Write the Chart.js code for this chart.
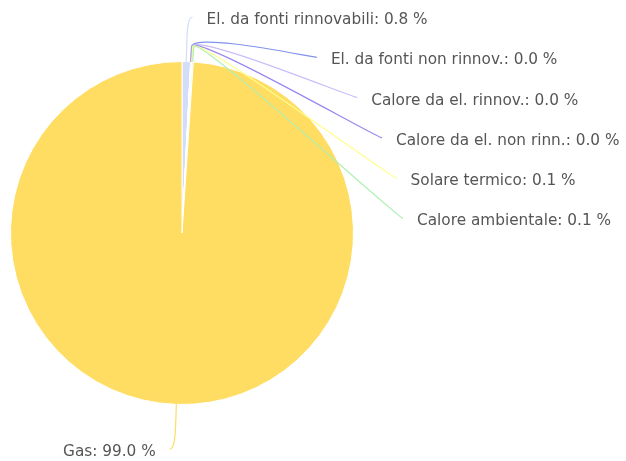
<!DOCTYPE html>
<html>
<head>
<meta charset="utf-8">
<script src="https://cdn.jsdelivr.net/npm/chart.js"></script>
<style>
  html, body { margin: 0; padding: 0; background: #fff; }
</style>
</head>
<body>
<canvas id="chart" width="626" height="461"></canvas>
<script>
'use strict';

//*****DATA******/

let categories = [
  'El. da fonti rinnovabili',
  'El. da fonti non rinnov.',
  'Calore da el. rinnov.',
  'Calore da el. non rinn.',
  'Solare termico',
  'Calore ambientale',
  'Gas'
];
let shares = [0.8, 0.02, 0.01, 0.03, 0.08, 0.11, 98.96];
let sliceColors = ['#d3dcf8', '#8092f0', '#cbbcf8', '#9a86f0', '#ffff8a', '#aef0b4', '#ffdc62'];

//*****LABEL PLUGIN******/

let labelFont = '15.3px "Lucida Grande", "DejaVu Sans", sans-serif';
let labelRing = 50;     // label distance beyond the pie edge
let breakRing = 15;     // where the connector bends
let rowGap = 40.3;
let topLimit = 17;
let bottomLimit = 449;

let pieLabels = {
  id: 'pieLabels',
  afterDatasetsDraw(chart) {
    let ctx = chart.ctx;
    let arcs = chart.getDatasetMeta(0).data;
    let right = [];
    let left = [];

    arcs.forEach(function (arc, i) {
      let a = (arc.startAngle + arc.endAngle) / 2;
      let R = arc.outerRadius + labelRing;
      let item = {
        i: i,
        arc: arc,
        a: a,
        R: R,
        nx: arc.x + Math.cos(a) * R,
        ny: arc.y + Math.sin(a) * R
      };
      if (Math.cos(a) >= 0) {
        right.push(item);
      } else {
        left.push(item);
      }
    });

    right.sort(function (p, q) { return p.ny - q.ny; });
    let prev = -Infinity;
    right.forEach(function (item) {
      item.y = Math.max(item.ny, topLimit, prev + rowGap);
      prev = item.y;
    });
    left.forEach(function (item) {
      item.y = Math.min(Math.max(item.ny, topLimit), bottomLimit);
    });

    ctx.save();
    ctx.font = labelFont;
    ctx.textBaseline = 'middle';
    ctx.lineWidth = 1.2;

    right.concat(left).forEach(function (item) {
      let arc = item.arc;
      let isLeft = Math.cos(item.a) < 0;
      let sign = isLeft ? -1 : 1;
      let dy = item.y - arc.y;
      let x;
      if (Math.abs(item.y - item.ny) < 10) {
        x = item.nx + sign * 5;
      } else {
        x = arc.x + sign * Math.sqrt(Math.max(item.R * item.R - dy * dy, 0));
      }
      let tx = arc.x + Math.cos(item.a) * arc.outerRadius;
      let ty = arc.y + Math.sin(item.a) * arc.outerRadius;
      let bx = arc.x + Math.cos(item.a) * (arc.outerRadius + breakRing);
      let by = arc.y + Math.sin(item.a) * (arc.outerRadius + breakRing);

      ctx.strokeStyle = sliceColors[item.i];
      ctx.beginPath();
      ctx.moveTo(x, item.y);
      ctx.bezierCurveTo(x - sign * 5, item.y, 2 * bx - tx, 2 * by - ty, bx, by);
      ctx.lineTo(tx, ty);
      ctx.stroke();

      let text = categories[item.i] + ': ' + shares[item.i].toFixed(1) + ' %';
      ctx.fillStyle = '#555555';
      ctx.textAlign = isLeft ? 'right' : 'left';
      ctx.fillText(text, x + sign * 14, item.y + 3);
    });
    ctx.restore();
  }
};

//*****CHART******/

let canvasElem = document.getElementById('chart');

new Chart(canvasElem, {
  type: 'pie',
  data: {
    labels: categories,
    datasets: [{
      data: shares,
      backgroundColor: sliceColors,
      borderColor: '#ffffff',
      borderWidth: 1
    }]
  },
  options: {
    responsive: false,
    animation: false,
    layout: {
      padding: { left: 10, right: 272, top: 61, bottom: 56 }
    },
    plugins: {
      legend: { display: false },
      tooltip: { enabled: false }
    }
  },
  plugins: [pieLabels]
});
</script>
</body>
</html>
